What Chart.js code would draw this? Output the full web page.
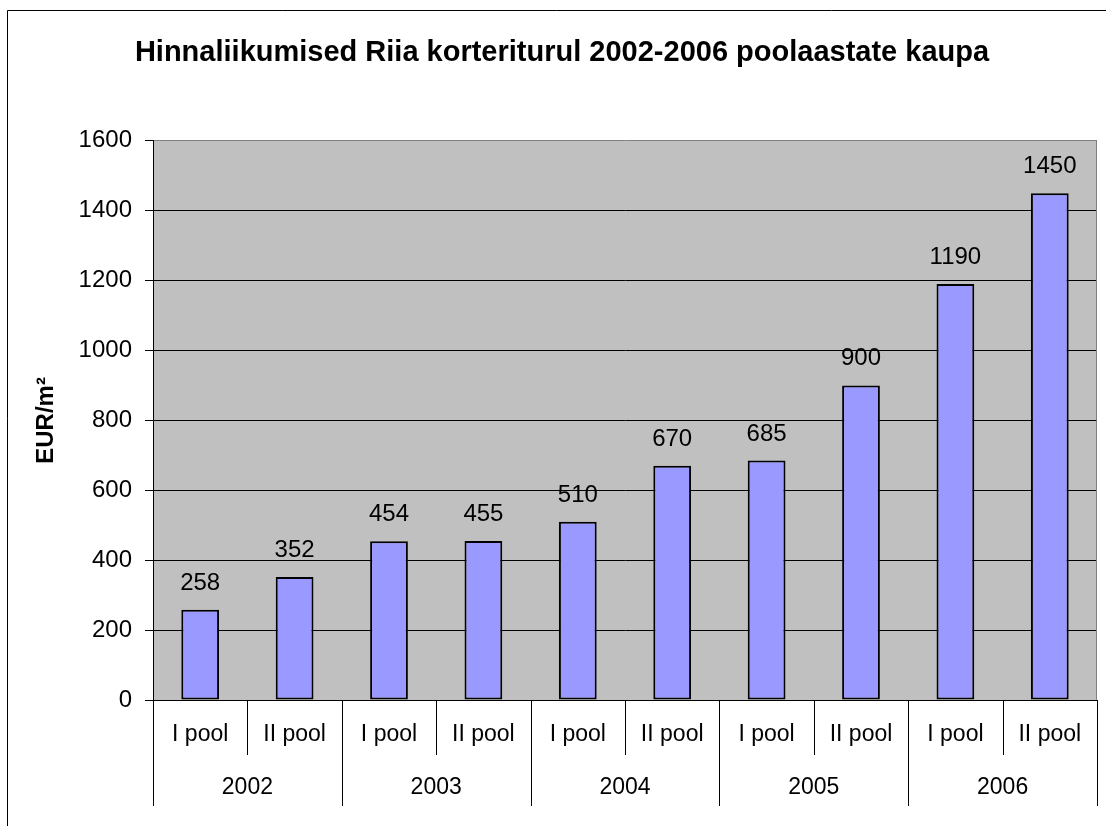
<!DOCTYPE html>
<html>
<head>
<meta charset="utf-8">
<script src="https://cdn.jsdelivr.net/npm/chart.js@4/dist/chart.umd.min.js"></script>
<style>
  html, body { margin: 0; padding: 0; background: #fff; }
  #wrap { width: 1106px; height: 826px; position: relative; }
</style>
</head>
<body>
<div id="wrap"><canvas id="priceChart"></canvas></div>
<script>
// andmed
const years = ['2002', '2003', '2004', '2005', '2006'];
const halves = ['I pool', 'II pool'];
const prices = [258, 352, 454, 455, 510, 670, 685, 900, 1190, 1450];
const yMin = 0;
const yMax = 1600;
const yStep = 200;

const FONT = "'Liberation Sans', Arial, sans-serif";
const labels = [];
years.forEach(y => halves.forEach(h => labels.push([h, y])));

// valge taust + välimine raam
const frame = {
    id: 'frame',
    beforeDraw(chart) {
        const { ctx, chartArea: a } = chart;
        ctx.save();
        ctx.fillStyle = '#fff';
        ctx.fillRect(0, 0, chart.width, chart.height);
        ctx.strokeStyle = '#000';
        ctx.lineWidth = 1;
        ctx.beginPath();
        ctx.moveTo(7.5, chart.height);
        ctx.lineTo(7.5, 10.5);
        ctx.lineTo(chart.width, 10.5);
        ctx.stroke();
        ctx.fillStyle = '#c0c0c0';
        ctx.fillRect(a.left, a.top, a.right - a.left, a.bottom - a.top);
        ctx.restore();
    },
    afterDraw(chart) {
        const { ctx, chartArea: a } = chart;
        ctx.save();
        ctx.strokeStyle = '#808080';
        ctx.lineWidth = 1;
        ctx.beginPath();
        ctx.moveTo(Math.round(a.right) - 0.5, a.top);
        ctx.lineTo(Math.round(a.right) - 0.5, a.bottom);
        ctx.stroke();
        ctx.restore();
    }
};

// kaheastmeline kategooriatelg
const groupAxis = {
    id: 'groupAxis',
    afterDraw(chart) {
        const { ctx, chartArea: a, scales: { x } } = chart;
        const n = labels.length;
        const px = i => x.getPixelForValue(i);
        const edges = [a.left];
        for (let i = 0; i < n - 1; i++) edges.push((px(i) + px(i + 1)) / 2);
        edges.push(a.right);

        ctx.save();
        ctx.strokeStyle = '#000';
        ctx.lineWidth = 1;
        edges.forEach((e, k) => {
            const ex = Math.round(e) + 0.5;
            ctx.beginPath();
            ctx.moveTo(ex, a.bottom);
            ctx.lineTo(ex, k % halves.length === 0 ? a.bottom + 106 : a.bottom + 55);
            ctx.stroke();
        });

        ctx.fillStyle = '#000';
        ctx.font = '23px ' + FONT;
        ctx.textAlign = 'center';
        ctx.textBaseline = 'middle';
        labels.forEach((l, i) => ctx.fillText(l[0], px(i), a.bottom + 35));
        years.forEach((y, j) => {
            const cx = (edges[j * 2] + edges[j * 2 + 2]) / 2;
            ctx.fillText(y, cx, a.bottom + 88);
        });
        ctx.restore();
    }
};

// väärtused tulpade kohal
const valueLabels = {
    id: 'valueLabels',
    afterDatasetsDraw(chart) {
        const { ctx } = chart;
        const meta = chart.getDatasetMeta(0);
        ctx.save();
        ctx.fillStyle = '#000';
        ctx.font = '24px ' + FONT;
        ctx.textAlign = 'center';
        ctx.textBaseline = 'alphabetic';
        meta.data.forEach((bar, i) => {
            ctx.fillText(String(prices[i]), bar.x, bar.y - 20);
        });
        ctx.restore();
    }
};

const ctx = document.getElementById('priceChart').getContext('2d');
new Chart(ctx, {
    type: 'bar',
    data: {
        labels: labels,
        datasets: [{
            data: prices,
            backgroundColor: '#9999ff',
            borderColor: '#000',
            borderWidth: 2,
            borderSkipped: false,
            categoryPercentage: 1,
            barPercentage: 0.4
        }]
    },
    options: {
        responsive: true,
        maintainAspectRatio: false,
        animation: false,
        layout: { padding: { left: 27, right: 9, top: 0, bottom: 126 } },
        plugins: {
            legend: { display: false },
            tooltip: { enabled: false },
            title: {
                display: true,
                text: 'Hinnaliikumised Riia korteriturul 2002-2006 poolaastate kaupa',
                color: '#000',
                font: { family: FONT, size: 29, weight: 'bold' },
                padding: { top: 36, bottom: 70 }
            }
        },
        scales: {
            x: { display: false },
            y: {
                min: yMin,
                max: yMax,
                afterFit: s => { s.width = 126; },
                ticks: {
                    stepSize: yStep,
                    color: '#000',
                    padding: 13,
                    font: { family: FONT, size: 24 },
                    callback: v => String(v)
                },
                grid: {
                    color: c => (c.tick && c.tick.value === yMax ? '#808080' : '#000'),
                    tickColor: '#000',
                    tickLength: 8,
                    lineWidth: 1
                },
                border: { color: '#000', width: 1 },
                title: {
                    display: true,
                    text: 'EUR/m²',
                    color: '#000',
                    font: { family: FONT, size: 24, weight: 'bold' },
                    padding: { top: 5, bottom: 0 }
                }
            }
        }
    },
    plugins: [frame, groupAxis, valueLabels]
});
</script>
</body>
</html>
